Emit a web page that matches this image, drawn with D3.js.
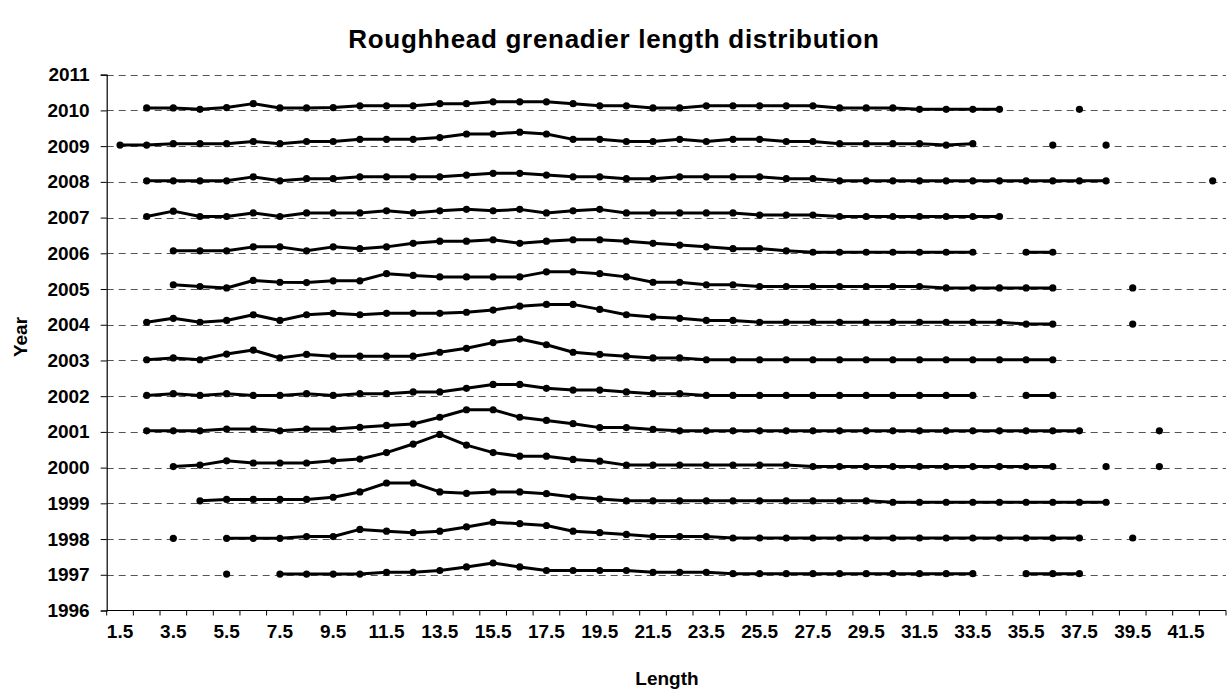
<!DOCTYPE html>
<html><head><meta charset="utf-8">
<script src="https://cdn.jsdelivr.net/npm/d3@7"></script>
<style>body{margin:0;background:#fff} svg{display:block} text{font-family:"Liberation Sans",Arial,sans-serif;font-weight:bold;fill:#000}</style>
</head><body>
<svg id="c" width="1227" height="696"></svg>
<script>
const lengths = ["1.5","2.5","3.5","4.5","5.5","6.5","7.5","8.5","9.5","10.5","11.5","12.5","13.5","14.5","15.5","16.5","17.5","18.5","19.5","20.5","21.5","22.5","23.5","24.5","25.5","26.5","27.5","28.5","29.5","30.5","31.5","32.5","33.5","34.5","35.5","36.5","37.5","38.5","39.5","40.5","41.5","42.5"];
const yearTicks = [1996,1997,1998,1999,2000,2001,2002,2003,2004,2005,2006,2007,2008,2009,2010,2011];
const years = [1997,1998,1999,2000,2001,2002,2003,2004,2005,2006,2007,2008,2009,2010];
const _ = null;
const f2010 = [_,.07,.07,.03,.08,.19,.07,.07,.08,.13, .13,.13,.19,.19,.24,.24,.24,.19,.13,.13, .07,.07,.13,.13,.13,.13,.13,.07,.07,.07, .03,.03,.03,.03,_,_,.03,_,_,_, _,_];
const f2009 = [.03,.03,.07,.07,.07,.13,.07,.13,.13,.19, .19,.19,.24,.34,.34,.39,.34,.19,.19,.13, .13,.19,.13,.19,.19,.13,.13,.07,.07,.07, .07,.03,.07,_,_,.03,_,.03,_,_, _,_];
const f2008 = [_,.03,.03,.03,.03,.14,.03,.09,.09,.14, .14,.14,.14,.19,.24,.24,.19,.14,.14,.09, .09,.14,.14,.14,.14,.09,.09,.03,.03,.03, .03,.03,.03,.03,.03,.03,.03,.03,_,_, _,.03];
const f2007 = [_,.03,.18,.03,.03,.13,.03,.13,.13,.13, .19,.13,.19,.23,.19,.23,.13,.19,.23,.13, .13,.13,.13,.13,.07,.07,.07,.03,.03,.03, .03,.03,.03,.03,_,_,_,_,_,_, _,_];
const f2006 = [_,_,.07,.07,.07,.18,.18,.07,.18,.13, .18,.28,.34,.34,.38,.28,.34,.38,.38,.34, .28,.23,.18,.13,.13,.07,.03,.03,.03,.03, .03,.03,.03,_,.03,.03,_,_,_,_, _,_];
const f2005 = [_,_,.12,.07,.03,.24,.19,.18,.23,.23, .43,.38,.34,.34,.34,.34,.48,.48,.43,.34, .19,.19,.12,.12,.07,.07,.07,.07,.07,.07, .07,.03,.03,.03,.03,.03,_,_,.03,_, _,_];
const f2004 = [_,.07,.18,.07,.12,.28,.12,.28,.32,.28, .32,.32,.32,.35,.41,.52,.57,.57,.43,.28, .22,.18,.12,.12,.07,.07,.07,.07,.07,.07, .07,.07,.07,.07,.02,.02,_,_,.02,_, _,_];
const f2003 = [_,.02,.07,.02,.18,.29,.07,.17,.12,.12, .12,.12,.23,.34,.50,.60,.44,.23,.17,.12, .07,.07,.02,.02,.02,.02,.02,.02,.02,.02, .02,.02,.02,.02,.02,.02,_,_,_,_, _,_];
const f2002 = [_,.02,.07,.02,.07,.02,.02,.07,.02,.07, .07,.12,.12,.22,.33,.33,.22,.17,.17,.12, .07,.07,.02,.02,.02,.02,.02,.02,.02,.02, .02,.02,.02,_,.02,.02,_,_,_,_, _,_];
const f2001 = [_,.03,.03,.03,.08,.08,.03,.08,.08,.13, .18,.22,.41,.62,.62,.41,.32,.23,.12,.12, .07,.03,.03,.03,.03,.03,.03,.03,.03,.03, .03,.03,.03,.03,.03,.03,.03,_,_,.03, _,_];
const f2000 = [_,_,.03,.07,.19,.13,.13,.13,.19,.24, .42,.66,.93,.63,.42,.32,.32,.23,.18,.07, .07,.07,.07,.07,.07,.07,.03,.03,.03,.03, .03,.03,.03,.03,.03,.03,_,.03,_,.03, _,_];
const f1999 = [_,_,_,.07,.11,.11,.11,.11,.17,.32, .57,.57,.32,.28,.32,.32,.27,.18,.12,.07, .07,.07,.07,.07,.07,.07,.07,.07,.07,.03, .03,.03,.03,.03,.03,.03,.03,.03,_,_, _,_];
const f1998 = [_,_,.02,_,.02,.02,.02,.07,.07,.27, .22,.18,.22,.34,.47,.43,.38,.22,.18,.13, .07,.07,.07,.03,.03,.03,.03,.03,.03,.03, .03,.03,.03,.03,.03,.03,.03,_,.03,_, _,_];
const f1997 = [_,_,_,_,.02,_,.02,.02,.02,.02, .07,.07,.12,.22,.33,.22,.12,.12,.12,.12, .07,.07,.07,.03,.03,.03,.03,.03,.03,.03, .03,.03,.03,_,.03,.03,.03,_,_,_, _,_];
const seriesValues = [f1997,f1998,f1999,f2000,f2001,f2002,f2003,f2004,f2005,f2006,f2007,f2008,f2009,f2010];
const title = "Roughhead grenadier length distribution";

const svg = d3.select("#c");
const L = 106.7, R = 1226, T = 74.7, B = 610.5;
const x = d3.scaleBand().domain(lengths).range([L, R]).padding(0);
const y = d3.scaleLinear().domain([1996, 2011]).range([B, T]);
const cx = d => x(d) + x.bandwidth() / 2;

// gridlines
svg.append("g").selectAll("line").data(yearTicks.filter(v => v > 1996)).join("line")
  .attr("x1", L).attr("x2", R)
  .attr("y1", d => Math.round(y(d)) + 0.5).attr("y2", d => Math.round(y(d)) + 0.5)
  .attr("stroke", "#555").attr("stroke-width", 1).attr("stroke-dasharray", "7,5");

// y axis
const ya = svg.append("g").attr("transform", `translate(${L},0)`)
  .call(d3.axisLeft(y).tickValues(yearTicks).tickFormat(d3.format("d")).tickSize(6).tickPadding(11));
ya.select(".domain").attr("stroke", "#000").attr("stroke-width", 1.2);
ya.selectAll(".tick line").attr("stroke", "#000");
ya.selectAll("text").style("font-size", "19px").attr("fill", "#000");

// x axis: labels every other category, ticks at category boundaries
const xa = svg.append("g").attr("transform", `translate(0,${B})`)
  .call(d3.axisBottom(x).tickValues(lengths.filter((d, i) => i % 2 === 0)).tickSize(0).tickPadding(14));
xa.select(".domain").attr("stroke", "#000").attr("stroke-width", 1.2).attr("d", `M${L},0H${R}`);
xa.selectAll("text").style("font-size", "19px").attr("fill", "#000");
svg.append("g").attr("transform", `translate(0,${B})`).selectAll("line")
  .data(lengths.map(d => x(d)).concat([R])).join("line")
  .attr("x1", d => d).attr("x2", d => d).attr("y1", 0).attr("y2", 5)
  .attr("stroke", "#000").attr("stroke-width", 1);

// series
const g = svg.append("g");
years.forEach((yr, k) => {
  const vals = seriesValues[k];
  const line = d3.line()
    .defined(d => d != null)
    .x((d, i) => cx(lengths[i]))
    .y(d => y(yr + d));
  g.append("path").datum(vals).attr("d", line)
    .attr("fill", "none").attr("stroke", "#000").attr("stroke-width", 3)
    .attr("stroke-linejoin", "round");
  g.append("g").selectAll("circle")
    .data(vals.map((v, i) => ({v, i})).filter(p => p.v != null)).join("circle")
    .attr("cx", p => cx(lengths[p.i])).attr("cy", p => y(yr + p.v)).attr("r", 3.6)
    .attr("fill", "#000");
});

// titles
svg.append("text").attr("x", 614).attr("y", 48).attr("text-anchor", "middle")
  .style("font-size", "26px").style("letter-spacing", "0.7px").text(title);
svg.append("text").attr("x", 667).attr("y", 685).attr("text-anchor", "middle")
  .style("font-size", "19px").text("Length");
svg.append("text").attr("transform", "translate(27,337) rotate(-90)").attr("text-anchor", "middle")
  .style("font-size", "19px").text("Year");
</script>
</body></html>
